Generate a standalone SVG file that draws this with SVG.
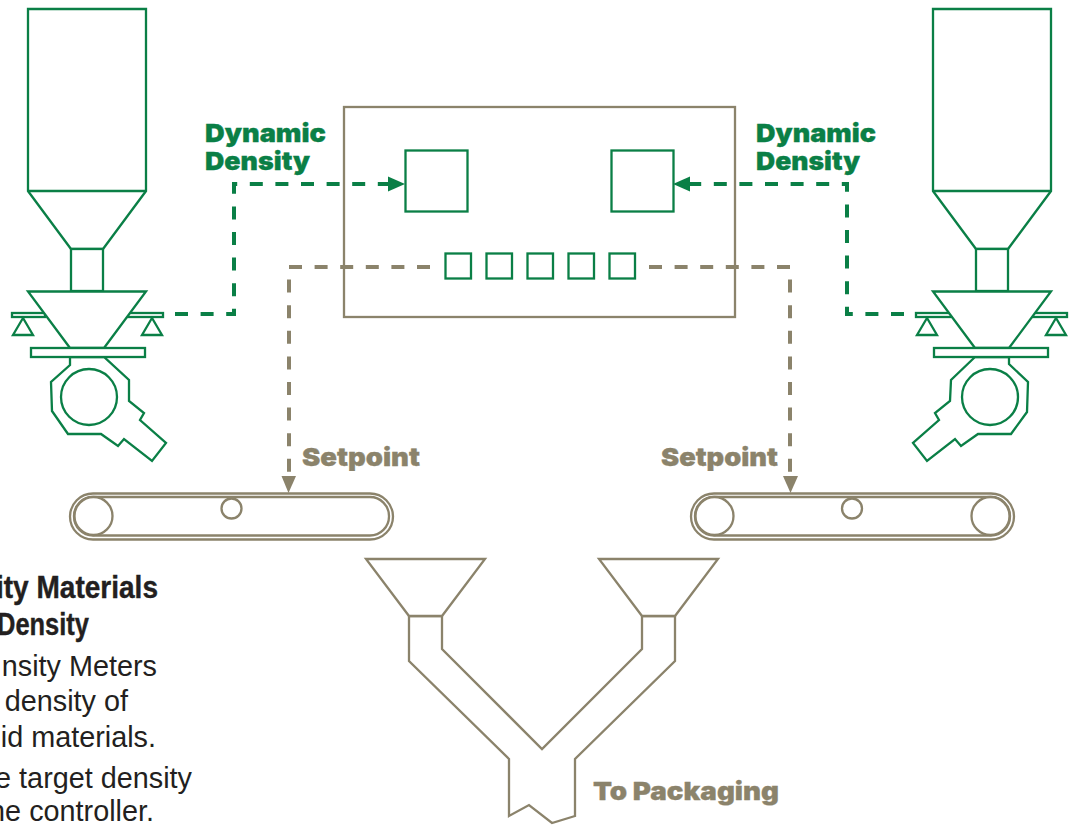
<svg xmlns="http://www.w3.org/2000/svg" width="1073" height="825" viewBox="0 0 1073 825">
<style>
.g{fill:#fff;stroke:#0a7f46;stroke-width:2.300;stroke-linejoin:miter}
.t{fill:#fff;stroke:#8b836b;stroke-width:2.300;stroke-linejoin:miter}
.gd{fill:none;stroke:#0a7f46;stroke-width:4;stroke-dasharray:13 12.6}
.td{fill:none;stroke:#8b836b;stroke-width:4;stroke-dasharray:13 12.6}
.lg{font-family:"Inter","Liberation Sans",sans-serif;font-weight:900;font-size:25px;fill:#0a7f46;stroke:#0a7f46;stroke-width:.3}
.lt{font-family:"Inter","Liberation Sans",sans-serif;font-weight:900;font-size:25px;fill:#8b836b;stroke:#8b836b;stroke-width:.3}
.h{font-family:"Liberation Sans",sans-serif;font-weight:700;font-size:31px;fill:#231f20;stroke:#231f20;stroke-width:.4;text-anchor:end}
.b{font-family:"Liberation Sans",sans-serif;font-size:28.800px;fill:#231f20;text-anchor:end}
</style>
<g id="controller"><rect class="t" x="344" y="107" width="391" height="210"/></g>
<g id="connectors">
<path class="gd" d="M175 314H234V184H388"/>
<path d="M388 176.500L405 184L388 191.500Z" fill="#0a7f46"/>
<path class="gd" d="M904 314H847V184H690"/>
<path d="M690 176.500L673 184L690 191.500Z" fill="#0a7f46"/>
<path class="td" d="M430 267H289V477"/>
<path d="M281.500 476L288.500 493L296 476Z" fill="#8b836b"/>
<path class="td" d="M649 267H790V477"/>
<path d="M783 476L790.500 493L798 476Z" fill="#8b836b"/>
</g>
<g id="display-left"><rect class="g" x="405.500" y="150.500" width="62" height="61"/></g>
<g id="display-right"><rect class="g" x="611.500" y="150.500" width="62" height="61"/></g>
<g id="setpoint-keys">
<rect class="g" x="445.500" y="253.500" width="25.500" height="25"/>
<rect class="g" x="486.500" y="253.500" width="25.500" height="25"/>
<rect class="g" x="527.500" y="253.500" width="25.500" height="25"/>
<rect class="g" x="568.500" y="253.500" width="25.500" height="25"/>
<rect class="g" x="609.500" y="253.500" width="25.500" height="25"/>
</g>
<g id="feeder-left">
<path class="g" d="M28 9H146V191L103 249H71L28 191Z"/>
<path class="g" d="M28 191H146"/>
<rect class="g" x="71" y="249" width="32" height="42"/>
<rect class="g" x="12" y="313" width="33" height="4"/>
<rect class="g" x="128" y="313" width="35" height="4"/>
<path class="g" d="M23 318L13 335H33Z"/>
<path class="g" d="M152 318L142 335H162Z"/>
<path class="g" d="M28 291.500H146L104 348H70Z"/>
<path class="g" d="M70 357V365L51 382L52 411L68 434H101L118 446L124 439L152 461L166 443L140 420L144 413L129 401V380L104 357Z"/>
<circle class="g" cx="89" cy="397" r="28"/>
<rect class="g" x="31" y="348" width="114" height="9"/>
</g>
<g id="feeder-right">
<path class="g" d="M933 9H1051V191L1008 249H976L933 191Z"/>
<path class="g" d="M933 191H1051"/>
<rect class="g" x="976" y="249" width="32" height="42"/>
<rect class="g" x="916" y="313" width="35" height="4"/>
<rect class="g" x="1033" y="313" width="34" height="4"/>
<path class="g" d="M927 318L917 335H937Z"/>
<path class="g" d="M1056 318L1046 335H1066Z"/>
<path class="g" d="M933 291.500H1051L1009 348H975Z"/>
<path class="g" d="M975 357L951 380L950 401L935 413L939 420L913 443L927 461L955 439L961 446L978 434H1011L1027 412L1028 382L1009 364V357Z"/>
<circle class="g" cx="990" cy="397" r="28"/>
<rect class="g" x="934" y="348" width="114" height="9"/>
</g>
<g id="belt-left">
<rect class="t" x="70" y="493.500" width="323" height="46" rx="23" stroke-width="2.500"/>
<rect class="t" x="74" y="497" width="315" height="38.500" rx="19"/>
<circle class="t" cx="93.500" cy="516" r="19"/>
<circle class="t" cx="231.500" cy="508.500" r="10"/>
</g>
<g id="belt-right">
<rect class="t" x="691" y="493.500" width="323" height="46" rx="23" stroke-width="2.500"/>
<rect class="t" x="695" y="497" width="315" height="38.500" rx="19"/>
<circle class="t" cx="714.500" cy="516" r="19"/>
<circle class="t" cx="990.500" cy="516" r="19"/>
<circle class="t" cx="852" cy="508.500" r="10"/>
</g>
<g id="chute">
<path class="t" d="M409 616H442V649L542 749L642 649V616H675V661L575 759V816L552 823L529 805L509 816V759L409 661Z"/>
<path class="t" d="M366 559H485L442 616H409Z"/>
<path class="t" d="M599 559H718L675 616H642Z"/>
</g>
<g id="labels">
<text class="lg" x="205" y="142" textLength="121" lengthAdjust="spacingAndGlyphs">Dynamic</text>
<text class="lg" x="205" y="170" textLength="105" lengthAdjust="spacingAndGlyphs">Density</text>
<text class="lg" x="756" y="142" textLength="120" lengthAdjust="spacingAndGlyphs">Dynamic</text>
<text class="lg" x="756" y="170" textLength="104" lengthAdjust="spacingAndGlyphs">Density</text>
<text class="lt" x="302" y="466" textLength="118" lengthAdjust="spacingAndGlyphs">Setpoint</text>
<text class="lt" x="661" y="466" textLength="117" lengthAdjust="spacingAndGlyphs">Setpoint</text>
<text class="lt" x="593" y="800" textLength="186" lengthAdjust="spacingAndGlyphs">To Packaging</text>
<text class="h" x="158" y="598" textLength="162" lengthAdjust="spacingAndGlyphs">ity Materials</text>
<text class="h" x="89" y="635" textLength="92" lengthAdjust="spacingAndGlyphs">Density</text>
<text class="b" x="157" y="676">nsity Meters</text>
<text class="b" x="128" y="711">density of</text>
<text class="b" x="156" y="746.500">id materials.</text>
<text class="b" x="192" y="788">e target density</text>
<text class="b" x="154" y="821">he controller.</text>
</g>
</svg>
